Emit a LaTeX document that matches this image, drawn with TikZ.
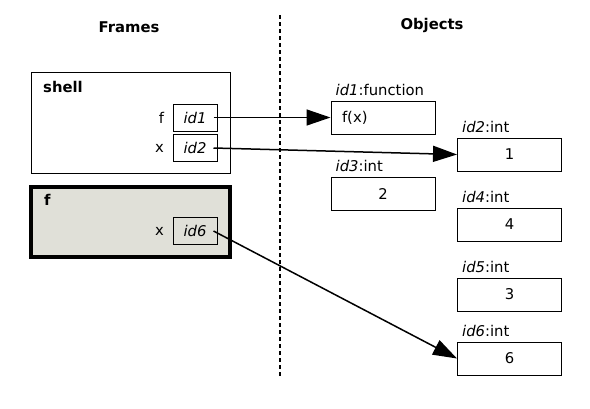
\documentclass[tikz,border=0pt]{standalone}
\usepackage{fontspec}
\setmainfont{DejaVu Sans}
\usepackage{tikz}
\usetikzlibrary{arrows.meta}
\usetikzlibrary{positioning}
\definecolor{framegray}{RGB}{224,224,216}
\newcommand{\bodyfont}{\fontsize{14.8}{17}\selectfont}
\tikzstyle{frm} = [rectangle, draw, line width=1pt, minimum width=199pt, minimum height=101pt, inner sep=0pt]
\tikzstyle{refbox} = [rectangle, draw, line width=1pt, minimum width=44pt, minimum height=27pt, inner sep=0pt, font=\bodyfont\itshape]
\tikzstyle{obj} = [rectangle, draw, line width=1pt, minimum width=104pt, minimum height=33pt, inner sep=0pt]
\tikzstyle{lbl} = [inner sep=0pt, anchor=south west, font=\bodyfont]
\tikzstyle{lnk} = [line width=1.5pt, -{Triangle[length=24pt,width=16pt]}]

\begin{document}
\begin{tikzpicture}
    [x=1pt, y=-1pt, font=\bodyfont]
    \useasboundingbox (0,0) rectangle (590,408);
    \node[font=\bodyfont\bfseries] (tfr) at (129,27) {Frames};
    \node[font=\bodyfont\bfseries] (tob) at (432,25) {Objects};
    \draw[line width=1.3pt, dash pattern=on 4pt off 3pt] (280,15) -- (280,376);
    % frames
    \node[frm] (shell) at (130.5,122.5) {};
    \node[font=\bodyfont\bfseries, anchor=north west, inner sep=0pt] (shn) at (43,81) {shell};
    \node[frm, fill=framegray, line width=3.5pt, minimum height=70pt] (ff) at (130.5,222) {};
    \node[font=\bodyfont\bfseries, anchor=north west, inner sep=0pt] (ffn) at (44,194) {f};
    \node[refbox] (v1) at (195,117.5) {id1};
    \node[refbox] (v2) at (195,148) {id2};
    \node[refbox] (v6) at (195,231) {id6};
    \node[left=5pt of v1] (n1) {f};
    \node[left=5pt of v2] (n2) {x};
    \node[left=5pt of v6] (n6) {x};
    % objects
    \node[obj] (o1) at (383,117.5) {};
    \node[anchor=west] (t1) at ([xshift=8pt]o1.west) {f(x)};
    \node[lbl, above right=5pt and 5pt of o1.north west] (l1) {\textit{id1}:function};
    \node[obj] (o2) at (509.5,154.5) {1};
    \node[lbl, above right=5pt and 5pt of o2.north west] (l2) {\textit{id2}:int};
    \node[obj] (o3) at (383,194) {2};
    \node[lbl, above right=5pt and 5pt of o3.north west] (l3) {\textit{id3}:int};
    \node[obj] (o4) at (509.5,224.5) {4};
    \node[lbl, above right=5pt and 5pt of o4.north west] (l4) {\textit{id4}:int};
    \node[obj] (o5) at (509.5,294.5) {3};
    \node[lbl, above right=5pt and 5pt of o5.north west] (l5) {\textit{id5}:int};
    \node[obj] (o6) at (509.5,358.5) {6};
    \node[lbl, above right=5pt and 5pt of o6.north west] (l6) {\textit{id6}:int};
    % references
    \draw[lnk] ([xshift=-4pt]v1.east) -- (o1.west);
    \draw[lnk] ([xshift=-4pt]v2.east) -- (o2.west);
    \draw[lnk] ([xshift=-4pt]v6.east) -- (o6.west);
  \end{tikzpicture}
\end{document}
